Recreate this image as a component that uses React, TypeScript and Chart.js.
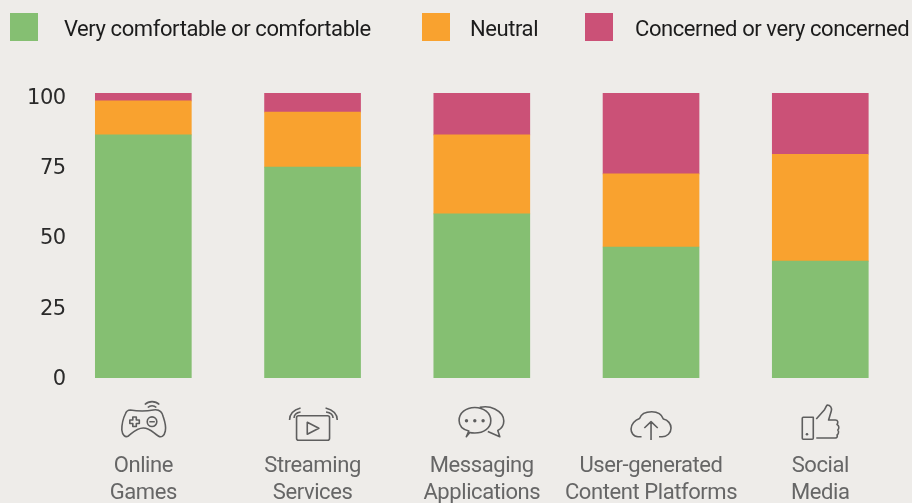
import React, { useEffect, useRef } from "react";
import { Chart, registerables } from "chart.js";

Chart.register(...registerables);

const categories = [
  ["Online", "Games"],
  ["Streaming", "Services"],
  ["Messaging", "Applications"],
  ["User-generated", "Content Platforms"],
  ["Social", "Media"],
];
const comfortable = [86.5, 75, 58.4, 46.6, 41.6];
const neutral = [12.1, 19.6, 28.1, 26, 38];
const concerned = [2.8, 6.8, 14.9, 28.8, 21.8];
const seriesNames = ["Very comfortable or comfortable", "Neutral", "Concerned or very concerned"];
const seriesColors = ["#85BF72", "#F9A22F", "#CB5177"];

const legendBoxX = [10, 422, 585];
const legendTextX = [64, 470, 635];

const FONT = "Roboto, sans-serif";
const BG = "#EEECE9";

const icons: { d: string; fill?: [number, number, number][] }[] = [
  {
    d: "M-13 -10Q-1 -8 10 -10C16 -11 19 -8 20 -3C22 3 23 7 22 11C21 16 18 18 15 16C10 13 7 8 0 8C-7 8 -11 13 -15 16C-18 18 -21 15 -21.5 10C-21.5 5 -20 -2 -18 -6C-17 -9 -15 -10 -13 -10Z" +
      "M-10.5 -3H-7V0H-4V3.5H-7V6.5H-10.5V3.5H-13.5V0H-10.5Z" +
      "M13.5 1.7A4.8 4.8 0 1 1 3.9 1.7A4.8 4.8 0 1 1 13.5 1.7ZM6 1.7H11.5" +
      "M4.5 -12.5A6 6 0 0 1 13 -12.5M1.5 -15.5A10.5 10.5 0 0 1 16 -15.5",
  },
  {
    d: "M-14 -4.3H15Q17 -4.3 17 -2.3V18.3Q17 20.3 15 20.3H-14Q-16 20.3 -16 18.3V-2.3Q-16 -4.3 -14 -4.3Z" +
      "M-5.3 2.3V14.3L6.3 8.3Z" +
      "M-23 0Q-23 -9 -12 -12M-18.5 -2Q-18.5 -7 -12 -8M24.7 0Q24.7 -9 13 -12M20.5 -2Q20.5 -7 13.5 -8",
    fill: [],
  },
  {
    d: "M-15.5 16.7L-13 11C-21 9 -22.7 4 -22.7 0.5C-22.7 -7 -16 -12.5 -7 -12.5C2 -12.5 9 -7 9 0.7C9 8 2 13 -7 13C-10 13 -11 12.8 -12 12.5Z" +
      "M-2 -12.6C2 -13.5 8 -13.5 13 -11C19 -8 22 -3 22 1C22 6 19 9 16 10.5L18 16.7L6 11.5",
    fill: [[-15.3, 0.7, 1.7], [-7, 0.7, 1.7], [1.3, 0.7, 1.7]],
  },
  {
    d: "M-9.5 16.7H-13C-18 16.7 -20 12 -20 9C-20 4 -16 0 -11.5 -1.5C-10 -6 -6 -8.3 0.7 -8.3C7 -8.3 11 -5 12.3 -1C17 0 20 4 20 8C20 13 16 16.7 11 16.7H8" +
      "M0 20V2M-6.7 8L0 1.7L6.7 8",
  },
  {
    d: "M-17 -2.7H-7V18.3A1 1 0 0 1 -8 19.3H-17A1 1 0 0 1 -18 18.3V-1.7A1 1 0 0 1 -17 -2.7Z" +
      "M-4 -1L4 -10C6 -13 6 -14.5 7 -15C10 -15 12 -12 11 -9L8.3 0H15C18 0 18 3 16.7 4.5C19 5.5 19 8.5 17.5 10C19 11.5 18 14.5 16.7 15C17.5 16 17 18 15 18H-4",
    fill: [[-13.3, 14.3, 1.3]],
  },
];

const decorPlugin = {
  id: "decor",
  beforeDraw(chart: any) {
    chart.ctx.letterSpacing = "-0.42px";
  },
  afterDraw(chart: any) {
    const { ctx, scales } = chart;
    ctx.save();
    // legend
    chart.data.datasets.forEach((ds: any, i: number) => {
      ctx.fillStyle = ds.backgroundColor;
      ctx.fillRect(legendBoxX[i], 13, 28, 28);
      ctx.fillStyle = "#1C1C1C";
      ctx.font = `22px ${FONT}`;
      ctx.textAlign = "left";
      ctx.textBaseline = "middle";
      ctx.fillText(ds.label, legendTextX[i], 30);
    });
    // icons
    ctx.strokeStyle = "#5E5E5E";
    ctx.fillStyle = "#5E5E5E";
    ctx.lineWidth = 1.6;
    ctx.lineJoin = "round";
    icons.forEach((icon, i) => {
      const x = scales.x.getPixelForValue(i);
      ctx.save();
      ctx.translate(x, 420);
      ctx.stroke(new Path2D(icon.d));
      (icon.fill || []).forEach(([px, py, r]) => {
        ctx.beginPath();
        ctx.arc(px, py, r, 0, Math.PI * 2);
        ctx.fill();
      });
      ctx.restore();
    });
    ctx.restore();
  },
};

export default function App() {
  const ref = useRef<HTMLCanvasElement>(null);
  useEffect(() => {
    const chart = new Chart(ref.current!, {
      type: "bar",
      data: {
        labels: categories as any,
        datasets: [comfortable, neutral, concerned].map((data, i) => ({
          label: seriesNames[i],
          data,
          backgroundColor: seriesColors[i],
          borderWidth: 0,
          barThickness: 96,
        })),
      },
      plugins: [decorPlugin],
      options: {
        responsive: false,
        animation: false,
        layout: { autoPadding: false, padding: { top: 93, right: 7.1, left: 0, bottom: 0 } },
        plugins: { legend: { display: false }, title: { display: false }, tooltip: { enabled: false } },
        scales: {
          x: {
            stacked: true,
            grid: { display: false, drawTicks: false },
            border: { display: false },
            afterFit: (s: any) => { s.height = 125; s.paddingLeft = 0; s.paddingRight = 0; },
            ticks: {
              padding: 75,
              maxRotation: 0,
              autoSkip: false,
              color: "#666666",
              font: { family: FONT, size: 22, lineHeight: 1.22 },
            },
          },
          y: {
            stacked: true,
            min: 0,
            max: 101.4,
            grid: { display: false, drawTicks: false },
            border: { display: false },
            afterFit: (s: any) => { s.width = 58.7; s.paddingTop = 0; s.paddingBottom = 0; },
            ticks: {
              stepSize: 25,
              includeBounds: false,
              mirror: true,
              crossAlign: "far",
              padding: -33,
              labelOffset: 1.5,
              color: "#2A2A2A",
              font: { family: "'DejaVu Sans', sans-serif", size: 21 },
            },
          },
        },
      },
    } as any);
    return () => chart.destroy();
  }, []);
  return (
    <div style={{ position: "absolute", left: 0, top: 0, width: 912, height: 503, background: BG, overflow: "hidden" }}>
      <canvas ref={ref} width={912} height={503} style={{ display: "block" }} />
    </div>
  );
}
